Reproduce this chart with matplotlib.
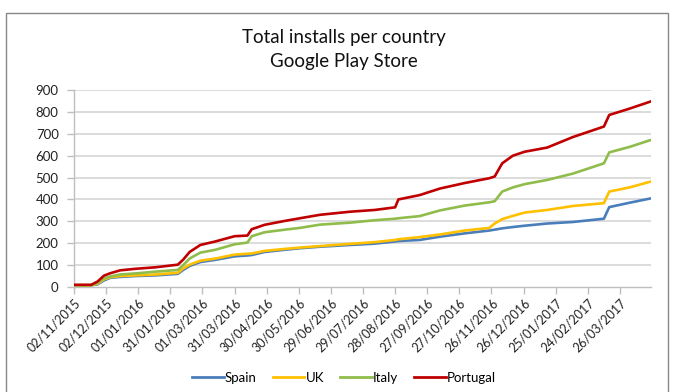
import matplotlib
matplotlib.use("Agg")
import matplotlib.pyplot as plt
from matplotlib.patches import Rectangle
import pandas as pd

plt.rcParams['font.family'] = ['Lato', 'DejaVu Sans']

title_lines = ["Total installs per country", "Google Play Store"]
series_names = ["Spain", "UK", "Italy", "Portugal"]
series_colors = ["#4a7ebb", "#ffc000", "#8fbc4b", "#c00000"]

dates = ["2015-11-02", "2015-11-18", "2015-11-24", "2015-11-30", "2015-12-06",
         "2015-12-15", "2015-12-29", "2016-01-17", "2016-02-07", "2016-02-12",
         "2016-02-18", "2016-02-28", "2016-03-13", "2016-03-31", "2016-04-12",
         "2016-04-16", "2016-04-28", "2016-05-17", "2016-05-31", "2016-06-19",
         "2016-07-17", "2016-08-09", "2016-08-28", "2016-08-31", "2016-09-20",
         "2016-10-09", "2016-11-01", "2016-11-24", "2016-11-29", "2016-12-06",
         "2016-12-16", "2016-12-27", "2017-01-17", "2017-02-10", "2017-03-11",
         "2017-03-16", "2017-04-04", "2017-04-24"]

spain = [8, 8, 12, 30, 42, 46, 50, 53, 60, 78, 96, 114, 124, 140, 144, 146, 160,
         170, 177, 184, 192, 198, 208, 210, 215, 230, 245, 258, 262, 268, 274, 280,
         290, 297, 312, 365, 385, 405]
uk = [8, 8, 15, 35, 45, 50, 53, 57, 65, 85, 102, 120, 130, 148, 152, 153, 165,
      174, 180, 187, 197, 205, 215, 218, 228, 240, 258, 270, 290, 310, 325, 340,
      352, 370, 383, 436, 455, 482]
italy = [8, 8, 18, 40, 48, 57, 62, 70, 78, 100, 130, 157, 170, 195, 203, 232, 250,
         262, 270, 285, 294, 305, 312, 314, 324, 350, 372, 387, 392, 436, 455, 470,
         489, 518, 565, 615, 640, 672]
portugal = [10, 10, 25, 52, 63, 76, 83, 90, 102, 125, 160, 192, 208, 232, 235, 264,
            284, 302, 314, 330, 344, 352, 364, 400, 420, 450, 475, 497, 505, 565,
            600, 618, 637, 685, 733, 786, 815, 848]

tick_labels = ["02/11/2015", "02/12/2015", "01/01/2016", "31/01/2016", "01/03/2016",
               "31/03/2016", "30/04/2016", "30/05/2016", "29/06/2016", "29/07/2016",
               "28/08/2016", "27/09/2016", "27/10/2016", "26/11/2016", "26/12/2016",
               "25/01/2017", "24/02/2017", "26/03/2017"]
y_ticks = [0, 100, 200, 300, 400, 500, 600, 700, 800, 900]

x = pd.to_datetime(dates)
tick_pos = pd.to_datetime(tick_labels, format="%d/%m/%Y")

fig = plt.figure(figsize=(6.75, 3.92), dpi=100)
ax = fig.add_axes([74/675, 1-287/392, (651-74)/675, (287-90)/392])

grid_c = "#d9d9d9"
for yv in y_ticks[1:]:
    ax.axhline(yv, color=grid_c, lw=1.3, zorder=1)

for name, vals, col in zip(series_names, [spain, uk, italy, portugal], series_colors):
    ax.plot(x, vals, color=col, lw=1.9, label=name, zorder=3)

ax.set_xlim(pd.Timestamp("2015-11-02"), pd.Timestamp("2017-04-24"))
ax.set_ylim(0, 900)
ax.set_yticks(y_ticks)
ax.set_yticklabels([str(v) for v in y_ticks], fontsize=9.5)
ax.set_xticks(tick_pos)
ax.set_xticklabels(tick_labels, rotation=45, ha='right', rotation_mode='anchor', fontsize=9)

for s in ['top', 'right']:
    ax.spines[s].set_visible(False)
for s in ['left', 'bottom']:
    ax.spines[s].set_color("#bfbfbf")
    ax.spines[s].set_linewidth(1.0)
ax.tick_params(axis='both', colors="#bfbfbf", length=5, width=1.0, labelcolor="#222222")
ax.tick_params(axis='y', pad=6)
ax.tick_params(axis='x', pad=2)

fig.text(344/675, 1-38/392, title_lines[0], ha='center', va='center', fontsize=13.5, color="#111111")
fig.text(344/675, 1-62/392, title_lines[1], ha='center', va='center', fontsize=13.5, color="#111111")

leg = fig.legend(loc='center', bbox_to_anchor=(344/675, 1-378/392), ncol=4, frameon=False,
                 fontsize=9.5, handlelength=2.4, handletextpad=0.1, columnspacing=1.2)
for line in leg.get_lines():
    line.set_linewidth(2.0)

fig.patches.append(Rectangle((6/675, -0.05), (668-6)/675, (392-13)/392 + 0.05,
                             transform=fig.transFigure, fill=False, edgecolor="#888888", lw=1.0))

fig.savefig("out.png", dpi=100)
